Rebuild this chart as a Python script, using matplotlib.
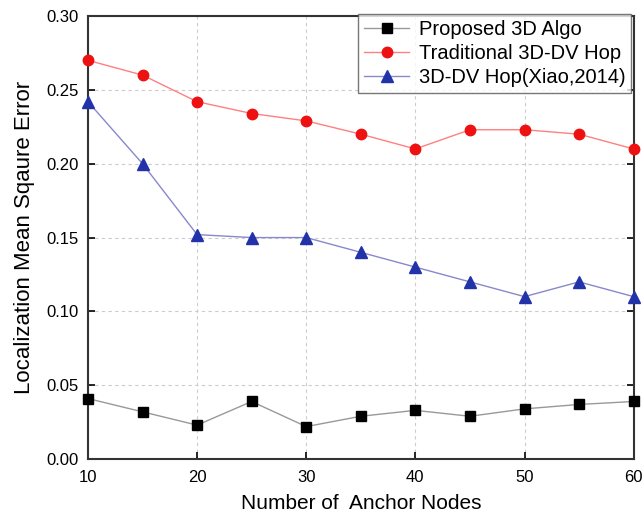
import matplotlib
matplotlib.use("Agg")
import matplotlib.pyplot as plt

plt.rcParams['font.family'] = ['Liberation Sans', 'DejaVu Sans']

anchors = [10, 15, 20, 25, 30, 35, 40, 45, 50, 55, 60]
proposed = [0.041, 0.032, 0.023, 0.039, 0.022, 0.029, 0.033, 0.029, 0.034, 0.037, 0.039]
traditional = [0.270, 0.260, 0.242, 0.234, 0.229, 0.220, 0.210, 0.223, 0.223, 0.220, 0.210]
xiao = [0.242, 0.200, 0.152, 0.150, 0.150, 0.140, 0.130, 0.120, 0.110, 0.120, 0.110]

fig = plt.figure(figsize=(6.42, 5.17), dpi=100)
ax = fig.add_axes([0.137, 0.112, 0.850, 0.857])

ax.plot(anchors, proposed, color='#999999', lw=1, marker='s', ms=7.5,
        mfc='black', mec='black', label='Proposed 3D Algo', clip_on=False, zorder=3)
ax.plot(anchors, traditional, color='#ff8080', lw=1, marker='o', ms=7.5,
        mfc='#ee1111', mec='#ee1111', label='Traditional 3D-DV Hop', clip_on=False, zorder=3)
ax.plot(anchors, xiao, color='#8888cc', lw=1, marker='^', ms=8.5,
        mfc='#2233aa', mec='#2233aa', label='3D-DV Hop(Xiao,2014)', clip_on=False, zorder=3)

ax.set_xlim(10, 60)
ax.set_ylim(0, 0.30)
ax.set_xticks([10, 20, 30, 40, 50, 60])
ax.set_yticks([0.00, 0.05, 0.10, 0.15, 0.20, 0.25, 0.30])
ax.set_yticklabels(['0.00', '0.05', '0.10', '0.15', '0.20', '0.25', '0.30'])
ax.tick_params(direction='in', length=5, width=1.2, labelsize=12, right=True, top=False)
ax.tick_params(axis='x', pad=8)
ax.tick_params(axis='y', pad=6.5)
ax.grid(True, color='#cccccc', linestyle=(0, (3, 3)), lw=0.8)
for s in ax.spines.values():
    s.set_linewidth(1.5)
    s.set_color('#333333')

ax.set_xlabel('Number of  Anchor Nodes', fontsize=15, labelpad=6)
ax.set_ylabel('Localization Mean Sqaure Error', fontsize=16, labelpad=8)

leg = ax.legend(loc='upper right', fontsize=14.5, frameon=True, fancybox=False,
                borderaxespad=0.0, handlelength=2.2, handletextpad=0.5,
                borderpad=0.3, labelspacing=0.25,
                bbox_to_anchor=(0.996, 1.0045))
leg.get_frame().set_edgecolor('#555555')
leg.get_frame().set_linewidth(1.0)

fig.savefig('out.png', dpi=100)
